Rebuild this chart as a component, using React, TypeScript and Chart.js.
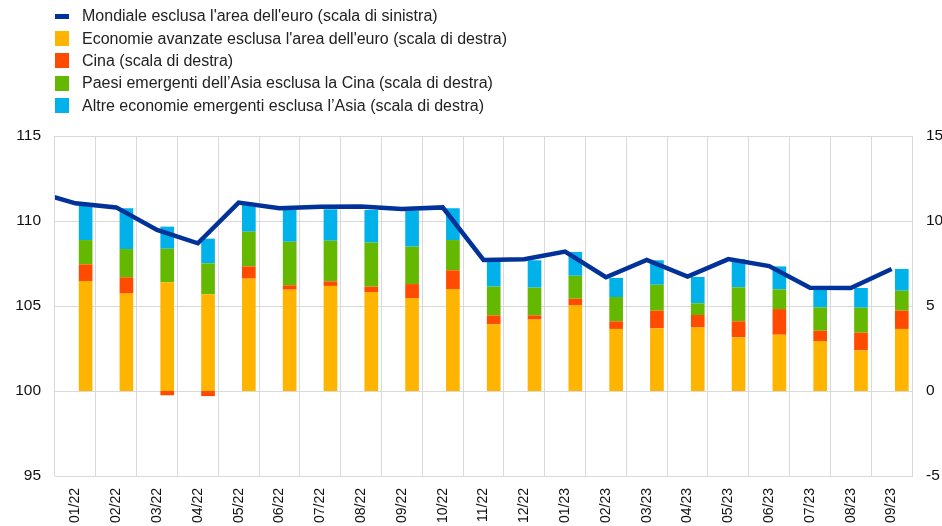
import React, { useEffect, useRef } from "react";
import { Chart, registerables } from "chart.js";

Chart.register(...registerables);

const categories = [
  "01/22", "02/22", "03/22", "04/22", "05/22", "06/22", "07/22", "08/22", "09/22", "10/22",
  "11/22", "12/22", "01/23", "02/23", "03/23", "04/23", "05/23", "06/23", "07/23", "08/23", "09/23",
];

// Mondiale esclusa l'area dell'euro (left scale)
const worldExEA = [
  111.04, 110.8, 109.47, 108.69, 111.08, 110.75, 110.84, 110.86, 110.71, 110.8,
  107.71, 107.75, 108.2, 106.69, 107.71, 106.73, 107.76, 107.35, 106.08, 106.06, 107.18,
];
// previous month (12/21), only partially visible at the left edge
const worldExEAPrev = 111.74;

// Contributions (right scale)
const advancedExEA = [
  6.47, 5.73, 6.39, 5.69, 6.61, 5.96, 6.18, 5.82, 5.47, 6.0,
  3.92, 4.2, 5.06, 3.65, 3.69, 3.73, 3.16, 3.31, 2.94, 2.39, 3.65,
];
const china = [
  0.98, 0.96, -0.25, -0.3, 0.72, 0.26, 0.27, 0.32, 0.82, 1.1,
  0.53, 0.25, 0.37, 0.45, 1.04, 0.74, 0.94, 1.51, 0.61, 1.04, 1.08,
];
const emAsiaExChina = [
  1.43, 1.66, 1.98, 1.82, 2.04, 2.56, 2.39, 2.59, 2.2, 1.78,
  1.69, 1.63, 1.35, 1.43, 1.52, 0.69, 2.0, 1.16, 1.37, 1.47, 1.17,
];
const otherEmExAsia = [
  2.1, 2.4, 1.3, 1.45, 1.69, 1.91, 1.85, 1.92, 2.12, 1.87,
  1.55, 1.61, 1.4, 1.12, 1.44, 1.55, 1.65, 1.35, 1.16, 1.16, 1.28,
];

const leftRange = [95, 115];
const rightRange = [-5, 15];
const tickStep = 5;

const labels = [
  "Mondiale esclusa l'area dell'euro (scala di sinistra)",
  "Economie avanzate esclusa l'area dell'euro (scala di destra)",
  "Cina (scala di destra)",
  "Paesi emergenti dell\u2019Asia esclusa la Cina (scala di destra)",
  "Altre economie emergenti esclusa l\u2019Asia (scala di destra)",
];

const colors = ["#003299", "#FFB400", "#FF4B00", "#65B800", "#00B1EA"];
const FONT = "'Liberation Sans', Arial, Helvetica, sans-serif";

export default function App() {
  const ref = useRef<HTMLCanvasElement | null>(null);

  useEffect(() => {
    if (!ref.current) return;
    const lineData = [{ x: -1, y: worldExEAPrev }].concat(
      worldExEA.map((v, i) => ({ x: i, y: v }))
    );
    const barSeries = [advancedExEA, china, emAsiaExChina, otherEmExAsia];
    const chart = new Chart(ref.current, {
      type: "bar",
      data: {
        labels: categories,
        datasets: [
          {
            type: "line",
            label: labels[0],
            data: lineData as any,
            xAxisID: "xl",
            yAxisID: "y",
            borderColor: colors[0],
            backgroundColor: colors[0],
            borderWidth: 4.5,
            pointRadius: 0,
            tension: 0,
            clip: 0,
            order: 0,
          } as any,
          ...barSeries.map((s, k) => ({
            type: "bar",
            label: labels[k + 1],
            data: s,
            xAxisID: "x",
            yAxisID: "y1",
            backgroundColor: colors[k + 1],
            borderWidth: 0,
            stack: "s",
            barPercentage: 0.67,
            categoryPercentage: 1,
            order: 1,
          })),
        ] as any,
      },
      options: {
        responsive: false,
        animation: false,
        layout: { padding: { top: 136, left: 0, right: 0, bottom: 0 } },
        plugins: { legend: { display: false }, tooltip: { enabled: false } },
        scales: {
          x: {
            type: "category",
            stacked: true,
            offset: true,
            grid: { color: "#d9d9d9", offset: true, drawTicks: false, lineWidth: 1 },
            border: { display: true, color: "#d9d9d9" },
            ticks: {
              font: { family: FONT, size: 14 },
              color: "#111",
              minRotation: 90,
              maxRotation: 90,
              autoSkip: false,
              padding: 12,
            },
            afterFit: (s: any) => {
              s.height = 50;
            },
          },
          xl: {
            type: "linear",
            display: false,
            offset: false,
            bounds: "ticks",
            grace: 0,
            min: -0.5,
            max: categories.length - 0.5,
          },
          y: {
            type: "linear",
            position: "left",
            min: leftRange[0],
            max: leftRange[1],
            ticks: {
              stepSize: tickStep,
              font: { family: FONT, size: 15.5 },
              color: "#111",
              padding: 14,
            },
            grid: { color: "#d9d9d9", drawTicks: false },
            border: { display: false },
            afterFit: (s: any) => {
              s.width = 55;
            },
          },
          y1: {
            type: "linear",
            position: "right",
            stacked: true,
            min: rightRange[0],
            max: rightRange[1],
            ticks: {
              stepSize: tickStep,
              font: { family: FONT, size: 15.5 },
              color: "#111",
              padding: 14,
            },
            grid: { display: false, drawTicks: false },
            border: { display: false },
            afterFit: (s: any) => {
              s.width = 30;
            },
          },
        },
      } as any,
    });
    return () => chart.destroy();
  }, []);

  return (
    <div style={{ position: "absolute", left: 0, top: 0, width: 942, height: 526, background: "#fff" }}>
      <canvas ref={ref} width={942} height={526} style={{ position: "absolute", left: 0, top: 0 }} />
      <div style={{ position: "absolute", left: 55, top: 5, fontFamily: FONT, fontSize: 16, color: "#222" }}>
        {labels.map((t, i) => (
          <div key={i} style={{ height: 22.4, display: "flex", alignItems: "center", whiteSpace: "nowrap" }}>
            <span
              style={{
                display: "inline-block",
                width: 14,
                height: i === 0 ? 5 : 15,
                background: colors[i],
                marginRight: 13,
              }}
            />
            <span>{t}</span>
          </div>
        ))}
      </div>
    </div>
  );
}
